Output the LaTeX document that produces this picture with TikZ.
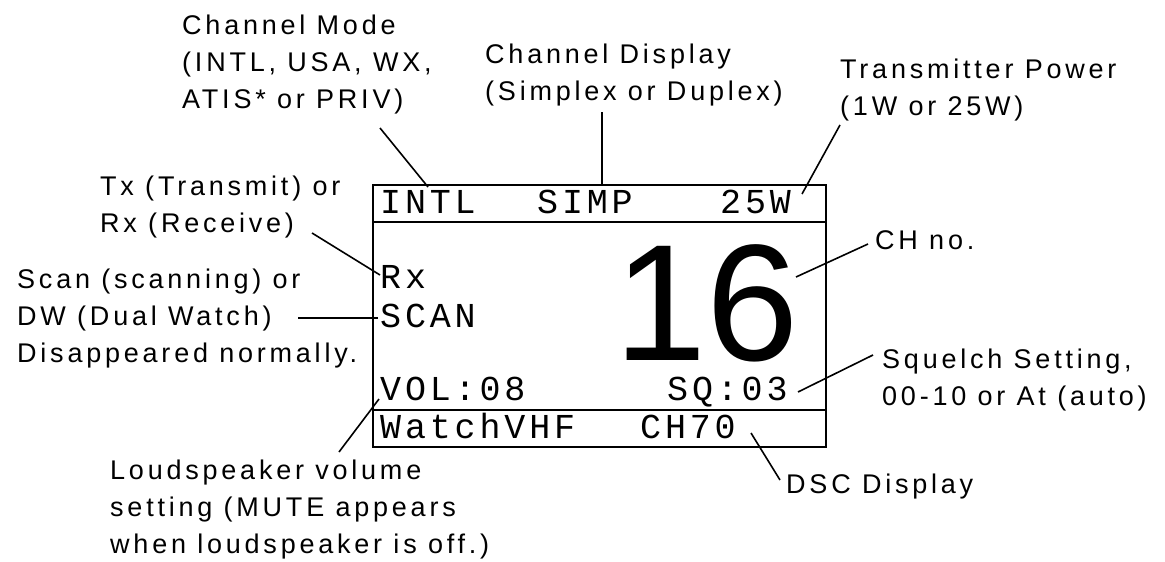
\documentclass[tikz,border=0pt]{standalone}
\usepackage{fontspec}
\newfontfamily\lblfont{Liberation Sans}[LetterSpace=14]
\newfontfamily\lcdfont{Liberation Mono}[LetterSpace=11]
\newfontfamily\chfont{Liberation Sans}

\begin{document}
\begin{tikzpicture}[x=1pt,y=-1pt,
    lbl/.style={anchor=base west, inner sep=0pt, align=left, font=\lblfont\fontsize{27}{37}\selectfont},
    lcd/.style={anchor=base west, inner sep=0pt, font=\lcdfont\fontsize{35}{35}\selectfont},
    lead/.style={line width=1.6pt}]
    \useasboundingbox (0,0) rectangle (1165,562);
    % display
    \draw[line width=2.4pt] (373,185) rectangle (826,447);
    \draw[line width=1.8pt] (373,222) -- (826,222);
    \draw[line width=1.8pt] (373,410) -- (826,410);
    \node[lcd] (intl) at (380,213) {INTL};
    \node[lcd] (simp) at (537,213) {SIMP};
    \node[lcd] (pwr) at (720,213) {25W};
    \node[lcd] (rx) at (380,288) {Rx};
    \node[lcd] (scan) at (380,327) {SCAN};
    \node[lcd] (vol) at (380,400) {VOL:08};
    \node[lcd] (sq) at (667,400) {SQ:03};
    \node[lcd] (watch) at (380,438) {WatchVHF};
    \node[lcd] (ch70) at (640,438) {CH70};
    \node[anchor=base west, inner sep=0pt, text depth=0pt, font=\chfont\fontsize{166}{166}\selectfont] (chnum) at (614,360) {16};
    % labels (placed at the baseline of their last line)
    \node[lbl] (mode) at (182,108) {Channel Mode\\(INTL, USA, WX,\\ATIS* or PRIV)};
    \node[lbl] (disp) at (485,100) {Channel Display\\(Simplex or Duplex)};
    \node[lbl] (power) at (840,115) {Transmitter Power\\(1W or 25W)};
    \node[lbl] (txrx) at (100,232) {Tx (Transmit) or\\Rx (Receive)};
    \node[lbl] (scanlbl) at (17,362) {Scan (scanning) or\\DW (Dual Watch)\\Disappeared normally.};
    \node[lbl] (chno) at (875,249) {CH no.};
    \node[lbl] (sqlbl) at (882,405) {Squelch Setting,\\00-10 or At (auto)};
    \node[lbl] (vollbl) at (110,553) {Loudspeaker volume\\setting (MUTE appears\\when loudspeaker is off.)};
    \node[lbl] (dsclbl) at (786,493) {DSC Display};
    % leader ends
    \coordinate (mode-a) at (380,128);  \coordinate (mode-b) at (428,187);
    \coordinate (disp-a) at (602,112);  \coordinate (disp-b) at (602,185);
    \coordinate (power-a) at (840,125); \coordinate (power-b) at (802,194);
    \coordinate (txrx-a) at (312,233);  \coordinate (txrx-b) at (380,275);
    \coordinate (scan-a) at (298,318);  \coordinate (scan-b) at (378,318);
    \coordinate (vol-a) at (339,452);   \coordinate (vol-b) at (379,399);
    \coordinate (chno-a) at (868,244);  \coordinate (chno-b) at (796,277);
    \coordinate (sq-a) at (873,355);    \coordinate (sq-b) at (798,392);
    \coordinate (dsc-a) at (780,480);   \coordinate (dsc-b) at (751,433);
    % leaders
    \draw[lead] (mode-a) -- (mode-b);
    \draw[lead] (disp-a) -- (disp-b);
    \draw[lead] (power-a) -- (power-b);
    \draw[lead] (txrx-a) -- (txrx-b);
    \draw[lead] (scan-a) -- (scan-b);
    \draw[lead] (vol-a) -- (vol-b);
    \draw[lead] (chno-a) -- (chno-b);
    \draw[lead] (sq-a) -- (sq-b);
    \draw[lead] (dsc-a) -- (dsc-b);
\end{tikzpicture}
\end{document}
